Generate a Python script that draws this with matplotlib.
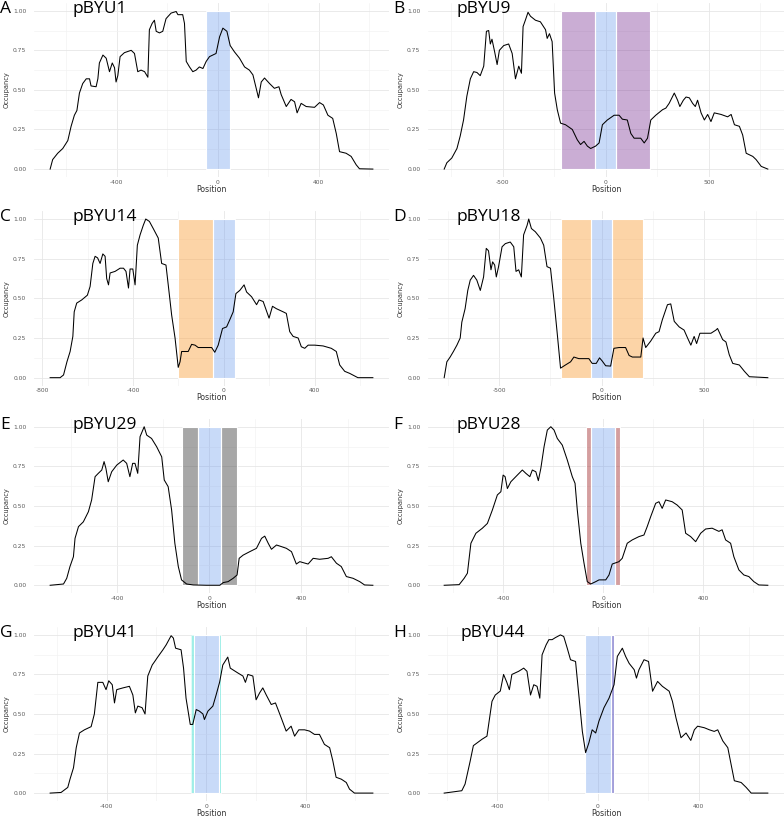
import matplotlib
matplotlib.use("Agg")
import matplotlib.pyplot as plt
from matplotlib.patches import Rectangle
from matplotlib.ticker import MultipleLocator, FuncFormatter, FormatStrFormatter

# ---------------- data ----------------
labels = ["A", "B", "C", "D", "E", "F", "G", "H"]
titles = ["pBYU1", "pBYU9", "pBYU14", "pBYU18", "pBYU29", "pBYU28", "pBYU41", "pBYU44"]

posA = [-664, -654, -634, -614, -594, -581, -568, -558, -548, -535, -521, -508, -502, -482, -475, -469, -455, -442,
        -429, -418, -409, -403, -396, -387, -370, -343, -330, -317, -304, -290, -277, -271, -260, -251, -244, -231,
        -218, -205, -185, -165, -158, -139, -132, -125, -112, -99, -86, -73, -59, -46, -33, -20, -7, 7, 20, 36, 49,
        66, 86, 106, 125, 139, 152, 161, 172, 185, 205, 224, 242, 251, 271, 290, 304, 314, 330, 350, 383, 403, 418,
        436, 455, 469, 482, 508, 528, 548, 561, 614]
occA = [0, 0.06, 0.10, 0.13, 0.18, 0.27, 0.34, 0.37, 0.48, 0.54, 0.57, 0.57, 0.525, 0.52, 0.57, 0.67, 0.72, 0.70,
        0.615, 0.67, 0.64, 0.55, 0.59, 0.71, 0.735, 0.75, 0.73, 0.615, 0.625, 0.615, 0.58, 0.88, 0.92, 0.94, 0.87,
        0.86, 0.87, 0.95, 0.985, 0.995, 0.975, 0.975, 0.92, 0.68, 0.645, 0.615, 0.625, 0.645, 0.635, 0.68, 0.71, 0.72,
        0.73, 0.835, 0.89, 0.87, 0.78, 0.74, 0.70, 0.645, 0.625, 0.595, 0.51, 0.45, 0.55, 0.575, 0.54, 0.51, 0.52,
        0.47, 0.395, 0.44, 0.425, 0.355, 0.415, 0.395, 0.39, 0.42, 0.405, 0.34, 0.32, 0.225, 0.11, 0.10, 0.08, 0.027,
        0.002, 0]

posB = [-784, -771, -747, -722, -706, -690, -674, -657, -641, -625, -609, -592, -579, -568, -560, -552, -539, -527,
        -516, -495, -471, -454, -438, -422, -409, -401, -390, -377, -365, -341, -317, -292, -284, -273, -260, -248,
        -235, -219, -195, -162, -138, -122, -105, -89, -73, -49, -32, -16, 8, 41, 65, 81, 105, 122, 138, 170, 187,
        203, 219, 243, 276, 292, 308, 333, 349, 360, 377, 390, 406, 422, 435, 446, 463, 479, 495, 511, 527, 560, 592,
        609, 625, 649, 665, 682, 714, 730, 755, 787]
occB = [0, 0.04, 0.07, 0.13, 0.21, 0.31, 0.46, 0.57, 0.615, 0.61, 0.59, 0.65, 0.87, 0.875, 0.79, 0.82, 0.74, 0.66,
        0.75, 0.78, 0.79, 0.73, 0.57, 0.65, 0.605, 0.90, 0.94, 0.99, 0.965, 0.94, 0.93, 0.88, 0.825, 0.855, 0.805,
        0.48, 0.375, 0.29, 0.28, 0.25, 0.185, 0.155, 0.175, 0.145, 0.13, 0.145, 0.165, 0.28, 0.31, 0.34, 0.34, 0.315,
        0.31, 0.225, 0.195, 0.195, 0.165, 0.195, 0.31, 0.34, 0.375, 0.385, 0.415, 0.48, 0.435, 0.395, 0.435, 0.455,
        0.45, 0.415, 0.395, 0.435, 0.355, 0.31, 0.345, 0.30, 0.355, 0.345, 0.33, 0.345, 0.28, 0.27, 0.215, 0.10, 0.08,
        0.06, 0.017, 0]

posC = [-765, -721, -706, -691, -677, -665, -659, -648, -626, -601, -589, -577, -567, -556, -545, -533, -523, -516,
        -508, -501, -479, -457, -442, -431, -420, -413, -401, -391, -381, -369, -355, -344, -328, -311, -289, -274,
        -255, -245, -230, -215, -201, -193, -186, -157, -142, -127, -113, -84, -54, -40, -25, -6, 12, 26, 41, 53, 70,
        89, 100, 122, 144, 155, 173, 199, 214, 231, 261, 275, 290, 305, 327, 341, 356, 371, 400, 437, 473, 495, 510,
        532, 554, 590, 656]
occC = [0, 0, 0.017, 0.10, 0.165, 0.26, 0.415, 0.47, 0.49, 0.52, 0.575, 0.72, 0.765, 0.755, 0.72, 0.78, 0.765, 0.625,
        0.585, 0.66, 0.67, 0.69, 0.69, 0.67, 0.565, 0.685, 0.685, 0.585, 0.835, 0.90, 0.96, 1.0, 0.985, 0.94, 0.88,
        0.72, 0.71, 0.585, 0.395, 0.25, 0.065, 0.10, 0.165, 0.165, 0.21, 0.205, 0.19, 0.19, 0.19, 0.16, 0.205, 0.31,
        0.32, 0.365, 0.415, 0.53, 0.55, 0.585, 0.54, 0.51, 0.46, 0.49, 0.48, 0.375, 0.45, 0.435, 0.415, 0.405, 0.29,
        0.26, 0.25, 0.195, 0.185, 0.205, 0.205, 0.20, 0.185, 0.165, 0.08, 0.04, 0.027, 0, 0]

posD = [-767, -754, -738, -722, -705, -689, -681, -665, -652, -640, -624, -608, -591, -575, -562, -551, -539, -531,
        -521, -513, -502, -485, -469, -445, -428, -417, -404, -391, -380, -363, -355, -342, -323, -298, -282, -266,
        -249, -233, -217, -200, -176, -151, -135, -111, -86, -62, -46, -26, -10, 3, 20, 44, 60, 85, 117, 134, 150,
        191, 202, 215, 239, 264, 280, 296, 321, 337, 354, 378, 402, 419, 435, 451, 463, 479, 508, 533, 557, 565, 590,
        606, 622, 639, 671, 696, 720, 810]
occD = [0, 0.10, 0.13, 0.165, 0.205, 0.25, 0.35, 0.435, 0.55, 0.615, 0.645, 0.615, 0.55, 0.635, 0.815, 0.80, 0.68,
        0.73, 0.71, 0.635, 0.70, 0.825, 0.845, 0.855, 0.825, 0.67, 0.68, 0.635, 0.90, 0.96, 1.0, 0.94, 0.92, 0.88,
        0.835, 0.70, 0.69, 0.50, 0.29, 0.06, 0.08, 0.10, 0.13, 0.12, 0.12, 0.12, 0.09, 0.09, 0.125, 0.105, 0.075,
        0.073, 0.185, 0.19, 0.19, 0.14, 0.13, 0.13, 0.25, 0.19, 0.23, 0.28, 0.29, 0.365, 0.46, 0.465, 0.355, 0.32,
        0.30, 0.25, 0.205, 0.26, 0.215, 0.28, 0.28, 0.28, 0.30, 0.31, 0.24, 0.225, 0.145, 0.09, 0.08, 0.04, 0.006, 0]

posE = [-690, -632, -618, -604, -589, -582, -567, -546, -524, -510, -495, -481, -466, -456, -448, -438, -423, -401,
        -373, -358, -344, -332, -322, -310, -300, -282, -271, -250, -228, -206, -195, -178, -163, -149, -134, -120,
        -98, -69, -12, 46, 61, 82, 104, 121, 130, 147, 176, 205, 227, 241, 256, 270, 292, 313, 335, 357, 378, 393,
        407, 429, 451, 479, 516, 530, 552, 573, 595, 624, 653, 674, 710]
occE = [0, 0.008, 0.044, 0.118, 0.18, 0.296, 0.37, 0.40, 0.464, 0.538, 0.685, 0.706, 0.727, 0.78, 0.737, 0.653,
        0.716, 0.758, 0.79, 0.769, 0.685, 0.769, 0.769, 0.706, 0.937, 1.0, 0.947, 0.926, 0.874, 0.81, 0.664, 0.622,
        0.475, 0.265, 0.118, 0.034, 0.008, 0.002, 0, 0, 0.017, 0.023, 0.044, 0.065, 0.17, 0.19, 0.212, 0.233, 0.296,
        0.31, 0.265, 0.227, 0.254, 0.244, 0.233, 0.212, 0.134, 0.149, 0.143, 0.134, 0.17, 0.164, 0.17, 0.18, 0.139,
        0.118, 0.055, 0.044, 0.023, 0.002, 0]

posF = [-636, -576, -556, -543, -529, -509, -483, -463, -443, -423, -409, -400, -392, -383, -369, -343, -323, -309,
        -293, -283, -269, -259, -249, -236, -223, -209, -196, -183, -163, -143, -123, -112, -103, -89, -76, -63, -49,
        -29, -16, 11, 24, 37, 64, 77, 97, 117, 144, 164, 177, 191, 211, 224, 237, 251, 277, 297, 317, 331, 351, 371,
        391, 411, 437, 464, 477, 491, 511, 524, 544, 564, 584, 604, 624, 660]
occF = [0, 0.004, 0.044, 0.076, 0.265, 0.328, 0.36, 0.39, 0.475, 0.57, 0.59, 0.695, 0.685, 0.61, 0.653, 0.695, 0.727,
        0.706, 0.685, 0.727, 0.716, 0.66, 0.737, 0.874, 0.979, 1.0, 0.979, 0.926, 0.884, 0.79, 0.685, 0.643, 0.475,
        0.265, 0.139, 0.023, 0.008, 0.023, 0.034, 0.034, 0.065, 0.134, 0.149, 0.17, 0.265, 0.286, 0.307, 0.317, 0.37,
        0.433, 0.517, 0.527, 0.485, 0.538, 0.527, 0.506, 0.475, 0.328, 0.307, 0.275, 0.328, 0.355, 0.36, 0.34, 0.35,
        0.286, 0.265, 0.18, 0.097, 0.065, 0.055, 0.023, 0.002, 0]

posG = [-628, -584, -557, -548, -534, -523, -510, -490, -463, -450, -436, -416, -403, -392, -378, -369, -360, -335,
        -309, -295, -285, -275, -258, -246, -235, -217, -208, -195, -174, -161, -141, -132, -123, -101, -91, -81, -64,
        -54, -40, -27, -13, -7, 7, 27, 40, 54, 67, 87, 97, 107, 127, 148, 158, 168, 188, 201, 215, 228, 242, 262, 279,
        302, 322, 342, 356, 373, 396, 416, 436, 456, 476, 497, 510, 523, 544, 564, 577, 597, 671]
occG = [0, 0.004, 0.036, 0.088, 0.16, 0.287, 0.38, 0.40, 0.42, 0.50, 0.70, 0.70, 0.654, 0.71, 0.685, 0.57, 0.654,
        0.665, 0.675, 0.62, 0.507, 0.55, 0.54, 0.50, 0.74, 0.81, 0.83, 0.86, 0.906, 0.937, 0.995, 0.98, 0.916, 0.906,
        0.79, 0.60, 0.434, 0.434, 0.528, 0.518, 0.50, 0.465, 0.518, 0.55, 0.62, 0.70, 0.81, 0.86, 0.79, 0.78, 0.76,
        0.74, 0.70, 0.75, 0.74, 0.59, 0.633, 0.665, 0.62, 0.56, 0.57, 0.476, 0.392, 0.423, 0.36, 0.40, 0.40, 0.392,
        0.371, 0.371, 0.308, 0.287, 0.203, 0.10, 0.088, 0.067, 0.025, 0, 0]

posH = [-611, -541, -528, -508, -495, -461, -441, -421, -408, -388, -375, -362, -352, -342, -315, -295, -282, -268,
        -255, -242, -231, -222, -206, -195, -182, -169, -149, -136, -122, -109, -89, -76, -62, -49, -36, -23, -9, 4,
        24, 44, 64, 77, 97, 110, 124, 144, 153, 163, 183, 201, 217, 237, 256, 283, 296, 310, 330, 350, 369, 383, 396,
        423, 443, 462, 476, 496, 516, 529, 542, 569, 589, 609, 675]
occH = [0, 0.015, 0.057, 0.20, 0.30, 0.34, 0.36, 0.58, 0.62, 0.645, 0.75, 0.70, 0.654, 0.75, 0.77, 0.79, 0.77, 0.62,
        0.685, 0.675, 0.60, 0.874, 0.937, 0.97, 0.97, 0.983, 1.0, 0.99, 0.916, 0.843, 0.832, 0.62, 0.39, 0.256, 0.318,
        0.40, 0.38, 0.455, 0.54, 0.60, 0.685, 0.864, 0.916, 0.864, 0.82, 0.78, 0.727, 0.78, 0.843, 0.832, 0.644,
        0.706, 0.675, 0.644, 0.58, 0.476, 0.35, 0.38, 0.333, 0.40, 0.423, 0.413, 0.40, 0.39, 0.40, 0.33, 0.287, 0.182,
        0.078, 0.067, 0.036, 0, 0]

# shaded regions: (start, end, kind)
regA = [(-47, 47, "core")]
regB = [(-215, -50, "purple"), (-50, 50, "core"), (50, 215, "purple")]
regC = [(-200, -50, "orange"), (-50, 50, "core")]
regD = [(-200, -50, "orange"), (-50, 50, "core"), (50, 200, "orange")]
regE = [(-120, -50, "gray"), (-50, 50, "core"), (50, 120, "gray")]
regF = [(-70, -50, "red"), (-50, 50, "core"), (50, 70, "red")]
regG = [(-60, -50, "cyan"), (-50, 50, "core"), (50, 60, "cyan")]
regH = [(-50, 50, "core"), (50, 63, "lavender")]

xticks_major = [400, 500, 400, 500, 400, 400, 400, 400]

# ---------------- style ----------------
fills = {
    "core": ("#6495ED", 0.35),
    "purple": ("#7B3294", 0.40),
    "orange": ("#FBAA50", 0.50),
    "gray": ("#505050", 0.50),
    "red": ("#A0282A", 0.45),
    "cyan": ("#40E0D0", 0.50),
    "lavender": ("#5E57C0", 0.60),
}

W, H = 784, 818
fig = plt.figure(figsize=(W / 100, H / 100), dpi=100)
fig.patch.set_facecolor("white")

cols = [(34, 389), (428, 784)]
rows = [(2.8, 177.0), (211.1, 385.6), (418.8, 593.2), (627.0, 801.0)]

data = [(posA, occA, regA), (posB, occB, regB), (posC, occC, regC), (posD, occD, regD),
        (posE, occE, regE), (posF, occF, regF), (posG, occG, regG), (posH, occH, regH)]

letter_y = [9, 9, 217, 217, 425, 425, 633, 633]
title_x = [72, 457, 72, 457, 72, 457, 72, 460]

for i, (pos, occ, regs) in enumerate(data):
    r, c = divmod(i, 2)
    x0, x1 = cols[c]
    y0, y1 = rows[r]
    ax = fig.add_axes([x0 / W, 1 - y1 / H, (x1 - x0) / W, (y1 - y0) / H])
    ax.set_facecolor("white")
    for s in ax.spines.values():
        s.set_visible(False)
    # regions
    for (a, b, kind) in regs:
        col, al = fills[kind]
        lw = 0.5 if kind == "cyan" else 0.8
        ax.add_patch(Rectangle((a, 0), b - a, 1, facecolor=col, alpha=al, edgecolor="none", zorder=1))
        ax.add_patch(Rectangle((a, 0), b - a, 1, facecolor="none", edgecolor="white", linewidth=lw, zorder=1.5))
    ax.plot(pos, occ, color="black", linewidth=0.75, zorder=3)
    span = max(pos) - min(pos)
    ax.set_xlim(min(pos) - 0.05 * span, max(pos) + 0.05 * span)
    ax.set_ylim(-0.05, 1.05)
    ax.xaxis.set_major_locator(MultipleLocator(xticks_major[i]))
    ax.xaxis.set_minor_locator(MultipleLocator(xticks_major[i] / 2))
    ax.yaxis.set_major_locator(MultipleLocator(0.25))
    ax.yaxis.set_minor_locator(MultipleLocator(0.125))
    ax.yaxis.set_major_formatter(FormatStrFormatter("%.2f"))
    ax.xaxis.set_major_formatter(FuncFormatter(lambda v, p: f"{int(round(v))}"))
    ax.grid(which="major", color="#e6e6e6", linewidth=0.6, zorder=0)
    ax.grid(which="minor", color="#f2f2f2", linewidth=0.45, zorder=0)
    ax.set_axisbelow(True)
    ax.tick_params(which="both", length=0, labelsize=4.3, labelcolor="#5a5a5a")
    ax.tick_params(axis="x", pad=1.8)
    ax.tick_params(axis="y", pad=5.5)
    ax.set_xlabel("Position", fontsize=5.6, color="#333333", labelpad=0.0)
    ax.set_ylabel("Occupancy", fontsize=4.8, color="#333333", labelpad=2.5)
    fig.text((0 if c == 0 else 393) / W, 1 - letter_y[i] / H, labels[i], fontsize=12.5,
             family="Open Sans", ha="left", va="center", color="black")
    fig.text(title_x[i] / W, 1 - letter_y[i] / H, titles[i], fontsize=12.5,
             family="Open Sans", ha="left", va="center", color="black")

fig.savefig("out.png", dpi=100, facecolor="white")
